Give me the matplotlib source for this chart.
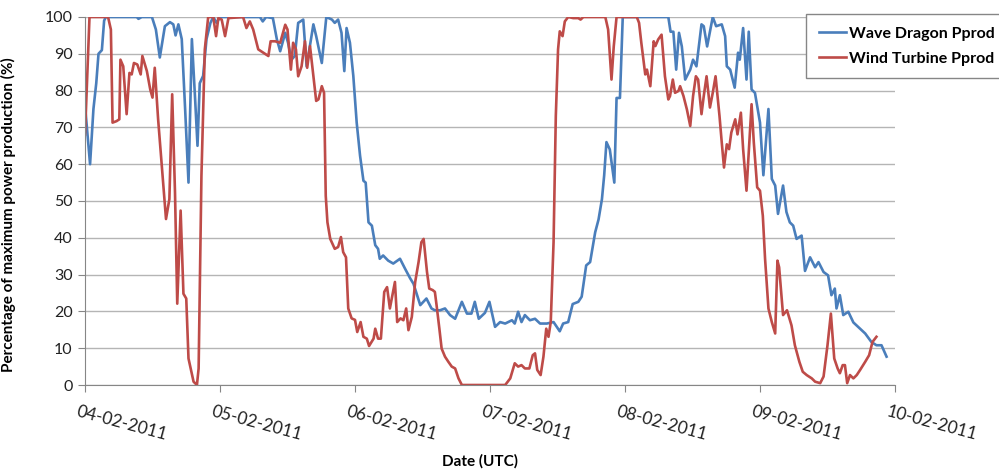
import matplotlib
matplotlib.use('Agg')
import matplotlib.pyplot as plt
import matplotlib.dates as mdates
import matplotlib.transforms as mtransforms
import pandas as pd

# Horas desde el 04-02-2011 00:00 UTC y porcentaje de produccion
wd_hours = [0, 0.9, 1.5, 2.0, 2.4, 3.0, 3.4, 3.7,
            9.2, 9.5, 10.1, 11.9, 12.6, 13.3, 14.2, 15.1, 15.7, 16.1,
            16.6, 17.2, 17.8, 18.4, 19.0, 19.6, 20.0, 20.4, 21.0, 21.6,
            22.3, 22.8, 23.4, 24.0,
            31.1, 31.6, 32.2, 33.4, 34.1,
            34.7, 35.6, 36.1, 36.7, 37.3, 37.9, 38.8, 39.4,
            40.6, 41.1, 42.1, 42.9, 43.9, 44.4, 45.0, 45.6, 46.1, 46.5,
            47.1, 47.7, 48.3, 48.9, 49.5, 49.9, 50.4, 51.0, 51.6, 52.1,
            52.4, 53.0, 53.9, 54.8, 56.0, 56.9, 57.8, 58.4, 59.6, 60.7,
            61.6, 62.2, 63.1, 64.0, 64.9, 65.8, 67.0, 67.9, 68.7, 69.3,
            70.0, 71.1,
            71.9, 72.9, 73.8, 74.7, 75.9, 76.4, 77.0, 77.6, 78.2, 79.1,
            80.0, 80.9, 82.1, 83.3, 84.4, 85.0, 85.9, 86.7, 87.7, 88.3,
            89.1, 89.8, 90.7, 91.3, 91.9, 92.3, 92.7, 93.3, 94.1, 94.5,
            95.1, 95.6,
            103.7, 104.1, 104.6, 105.1, 105.6, 106.1, 106.7,
            107.6, 108.1, 108.7, 109.6, 110.0, 110.6, 111.6, 112.2, 113.2, 113.8,
            114.1, 114.7, 115.5, 116.1, 116.4, 117.0, 117.6, 118.0, 118.5, 119.1,
            120.0, 120.6, 121.5, 122.1, 122.7, 123.2, 124.1, 124.7, 125.3, 125.9,
            126.5, 127.4, 128.0, 128.9, 129.8, 130.4, 131.3, 132.1, 132.7, 133.3,
            133.6, 134.2, 134.8, 135.7, 136.6, 137.8, 138.7, 139.8, 140.7, 141.6,
            142.5]
wd_values = [76, 60, 75, 82, 90, 91, 99, 100,
             100, 99.5, 100, 100, 96.6, 89, 97.5, 98.6, 98, 95,
             98, 94, 75, 55, 94, 77, 65, 82, 84, 94,
             98.4, 100, 98.4, 100,
             100, 98.8, 100, 99.7, 94,
             90.7, 95.7, 93, 88.4, 89.4, 98.4, 99.3, 86.6,
             98, 94.8, 87.5, 100, 99.3, 98.4, 99.3, 95.7, 85.3, 97,
             93, 84, 71.3, 62.3, 55.5, 55, 44.2, 43.3, 38, 37,
             34.3, 35.2, 33.8, 33, 34.3, 31.6, 29, 27.5, 21.7, 23.5,
             20.8, 20.3, 20.3, 20.8, 19, 18, 22.6, 19.4, 19.4, 22.6,
             18, 19.6,
             22.6, 15.8, 17.1, 16.7, 17.6, 16.7, 19.9, 17.1, 19, 17.6,
             18, 16.7, 16.7, 17.1, 14.6, 16.7, 17.1, 22, 22.6, 24,
             32.5, 33.4, 41.5, 45, 50.5, 57, 66, 64, 55, 78,
             78, 100,
             100, 96, 96, 85.7, 95.7, 92, 83,
             85.7, 88.4, 86.6, 98, 97.5, 92, 100, 97.5, 98, 94.8,
             86.6, 85.7, 80.8, 90.3, 88.4, 97, 83, 96, 80.3, 79.4,
             71.3, 57, 75, 56, 54.2, 46.5, 54.2, 47, 44.2, 43.3,
             39.7, 40.6, 31, 34.7, 32, 33.4, 30.7, 29.8, 24.4, 26.2,
             20.8, 24.4, 19, 19.9, 17, 15.3, 14, 11.7, 10.8, 10.8,
             7.7]

wt_hours = [0, 0.8, 4.1, 4.6, 4.9, 5.6, 6.1, 6.3, 6.8, 7.4,
            7.9, 8.3, 8.7, 9.3, 9.9, 10.2, 11.0, 11.6, 12.0, 12.4,
            13.0, 13.6, 14.4, 15.0, 15.5, 16.0, 16.4, 17.0, 17.5, 18.0,
            18.4, 19.3, 19.9, 20.2, 20.7, 21.3, 21.9, 22.8, 23.3, 23.7,
            24.3, 24.9, 25.5, 28.1, 28.7, 29.3, 29.9, 30.8, 31.7, 32.6,
            33.0, 33.8, 34.7, 35.6, 36.0, 36.6, 37.0, 37.5, 37.9, 38.5,
            39.1, 39.5, 40.0, 40.6, 41.1, 41.5, 42.1, 42.5, 42.8, 43.1,
            43.6, 44.4, 45.0, 45.5, 45.9, 46.4, 46.8, 47.4, 48.0, 48.4,
            49.0, 49.5, 50.1, 50.5, 51.3, 51.6, 52.1, 52.6, 53.2, 53.7,
            54.2, 55.1, 55.5, 56.1, 56.6, 57.1, 57.5, 58.1, 58.7, 59.3,
            59.8, 60.2, 60.8, 61.2, 61.8, 62.2, 62.5, 63.0, 63.4, 64.0,
            64.6, 65.2, 65.8, 66.4, 67.0, 74.7, 75.6, 76.4, 77.0, 77.6,
            78.2, 79.0, 79.6, 80.0, 80.4, 81.0, 81.5, 82.0, 82.4, 82.8,
            83.3, 83.7, 84.1, 84.4, 84.9, 85.3, 85.9, 86.8, 87.7, 88.1,
            88.6, 92.5, 93.0, 93.6, 94.0, 94.5, 98.1, 98.5, 98.9, 99.6,
            99.9, 100.5, 101.1, 101.4, 101.9, 102.5, 103.1, 103.7, 104.0, 104.5,
            104.9, 105.5, 105.8, 106.4, 107.0, 107.6, 108.1, 108.6, 109.0, 109.6,
            110.0, 110.5, 111.1, 111.6, 112.1, 112.8, 113.2, 113.6, 114.1, 114.5,
            114.9, 115.6, 116.0, 116.6, 117.0, 117.6, 118.5, 118.9, 119.5, 120.0,
            120.5, 120.9, 121.5, 122.1, 122.7, 123.1, 123.4, 124.1, 124.8, 125.6,
            126.2, 127.0, 127.6, 128.3, 129.2, 129.8, 130.7, 131.3, 132.0, 132.6,
            133.2, 133.8, 134.2, 134.7, 135.1, 135.5, 136.0, 136.6, 137.2, 137.8,
            138.7, 139.4, 140.0, 140.7]
wt_values = [68, 100, 100, 96.6, 71.3, 71.7, 72.2, 88.4, 86.6, 73.6,
             84.8, 84.4, 87.5, 87.1, 84.4, 89.4, 85.3, 80.3, 78.1, 86.2,
             72.2, 60.5, 45.1, 50.5, 79.0, 52.3, 22.1, 47.4, 24.8, 23.5,
             7.2, 0.9, 0, 4.5, 56.9, 91.2, 100, 100, 94.8, 99.7,
             99.3, 94.8, 99.7, 100, 97.0, 98.8, 96.6, 91.2, 90.3, 89.4,
             93.4, 93.4, 93.0, 97.9, 96.6, 85.7, 93.0, 91.2, 83.9, 86.6,
             93.4, 86.2, 92.1, 83.9, 77.2, 77.6, 81.2, 79.4, 51.4, 44.2,
             39.7, 37.0, 37.5, 40.2, 36.1, 34.7, 20.8, 18.1, 17.7, 14.4,
             17.1, 13.1, 12.6, 10.6, 12.6, 15.3, 12.6, 12.6, 25.3, 26.6,
             20.8, 28.0, 17.1, 18.1, 17.6, 20.8, 14.9, 18.5, 28.0, 33.4,
             38.8, 39.7, 30.7, 26.2, 25.8, 25.3, 21.7, 15.3, 9.9, 7.7,
             6.3, 5.0, 4.5, 1.8, 0, 0, 1.8, 5.9, 5.0, 5.4,
             4.5, 4.5, 8.1, 8.6, 4.1, 2.7, 7.7, 15.3, 13.1, 17.1,
             38.8, 73.1, 91.2, 96.1, 94.8, 98.8, 100, 99.7, 99.7, 99.3,
             100, 100, 96.6, 83.0, 92.0, 100, 100, 98.4, 93.0, 84.4,
             85.7, 81.2, 93.4, 92.1, 93.9, 95.2, 83.9, 77.6, 78.5, 83.0,
             79.4, 79.9, 81.2, 78.5, 74.9, 70.4, 78.5, 83.9, 83.0, 73.6,
             78.5, 83.9, 75.4, 79.4, 83.9, 73.1, 65.9, 59.1, 65.4, 64.1,
             68.6, 72.2, 68.1, 74.0, 64.1, 52.8, 76.3, 65.9, 53.7, 52.8,
             46.0, 34.3, 20.8, 17.1, 14.0, 33.8, 32.0, 19.0, 20.3, 16.2,
             10.8, 6.3, 3.6, 2.7, 1.8, 0.9, 0.5, 2.3, 10.8, 19.4,
             7.2, 4.5, 3.2, 5.4, 5.4, 0.5, 2.7, 1.8, 2.7, 4.1,
             6.3, 8.1, 11.7, 13.1]

inicio = pd.Timestamp('2011-02-04')
fin = pd.Timestamp('2011-02-10')
wd_times = inicio + pd.to_timedelta(wd_hours, unit='h')
wt_times = inicio + pd.to_timedelta(wt_hours, unit='h')

plt.rcParams['font.family'] = ['Lato', 'DejaVu Sans']

fig = plt.figure(figsize=(9.99, 4.73), dpi=100)
ax = fig.add_axes([85 / 999, 1 - 385 / 473, 810 / 999, 368 / 473])

gris = '#868686'
ax.plot(wd_times, wd_values, color='#4a7ebb', lw=1.9, label='Wave Dragon Pprod')
ax.plot(wt_times, wt_values, color='#be4b48', lw=1.9, label='Wind Turbine Pprod')

ax.set_xlim(inicio, fin)
ax.set_ylim(0, 100)
ax.set_yticks(range(0, 101, 10))
ax.yaxis.grid(True, color='#b5b5b5', lw=1)
ax.set_axisbelow(True)

ax.xaxis.set_major_locator(mdates.DayLocator())
ax.xaxis.set_major_formatter(mdates.DateFormatter('%d-%m-%Y'))

for lado in ['top', 'right']:
    ax.spines[lado].set_visible(False)
for lado in ['left', 'bottom']:
    ax.spines[lado].set_color(gris)

ax.tick_params(axis='both', direction='out', length=5, color=gris, labelcolor='#222222')
ax.tick_params(axis='y', labelsize=11.5, pad=4)
ax.tick_params(axis='x', labelsize=12.5, pad=8)

desplaza = mtransforms.ScaledTranslation(-6 / 100, 0, fig.dpi_scale_trans)
for etiqueta in ax.get_xticklabels():
    etiqueta.set_rotation(-15)
    etiqueta.set_rotation_mode('anchor')
    etiqueta.set_ha('left')
    etiqueta.set_va('top')
    etiqueta.set_transform(etiqueta.get_transform() + desplaza)

ax.set_xlabel('Date (UTC)', fontsize=11, fontweight='bold', va='center')
ax.xaxis.set_label_coords((480 - 85) / 810, (385 - 461) / 368)
ax.set_ylabel('Percentage of maximum power production (%)', fontsize=11, fontweight='bold')
ax.yaxis.set_label_coords((16 - 85) / 810, (385 - 215) / 368)

leyenda = ax.legend(loc='upper left', bbox_to_anchor=(806 / 999, 1 - 14 / 473),
                    bbox_transform=fig.transFigure, fancybox=False, framealpha=1,
                    edgecolor=gris, prop={'weight': 'bold', 'size': 11.5},
                    handlelength=1.7, handletextpad=0.2, borderpad=0.8,
                    labelspacing=0.65, borderaxespad=0)
leyenda.get_frame().set_linewidth(1)

fig.savefig('out.png', dpi=100)
